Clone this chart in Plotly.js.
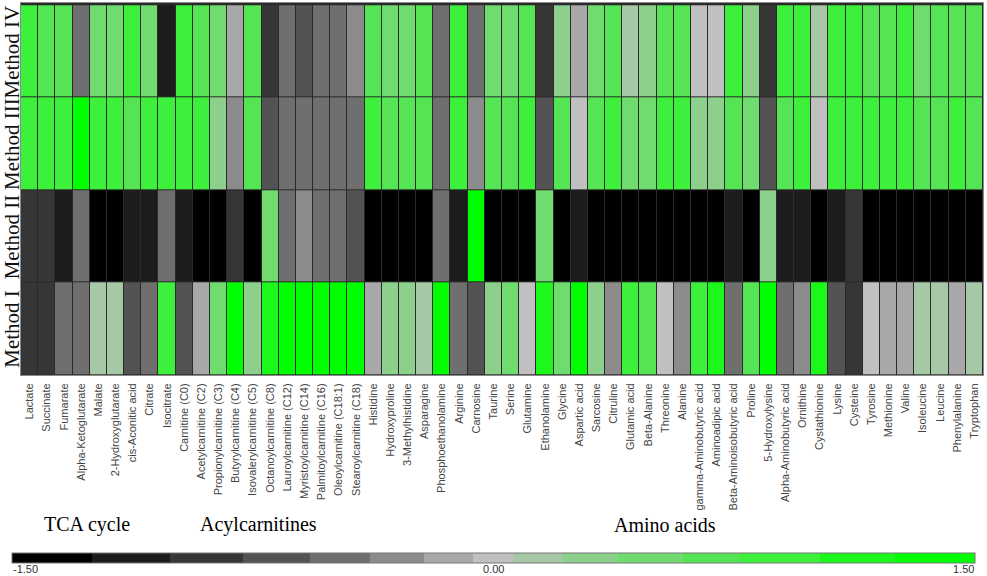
<!DOCTYPE html>
<html>
<head>
<meta charset="utf-8">
<script src="https://cdn.plot.ly/plotly-3.0.1.min.js"></script>
<style>
  html, body { margin: 0; padding: 0; background: #fff; }
  #heat { width: 987px; height: 576px; }
</style>
</head>
<body>
<div id="heat"></div>
<script>
var metabolites = ["Lactate", "Succinate", "Fumarate", "Alpha-Ketoglutarate", "Malate", "2-Hydroxyglutarate",
  "cis-Aconitic acid", "Citrate", "Isocitrate", "Carnitine (C0)", "Acetylcarnitine (C2)", "Propionylcarnitine (C3)",
  "Butyrylcarnitine (C4)", "Isovalerylcarnitine (C5)", "Octanoylcarnitine (C8)", "Lauroylcarnitine (C12)",
  "Myristoylcarnitine (C14)", "Palmitoylcarnitine (C16)", "Oleoylcarnitine (C18:1)", "Stearoylcarnitine (C18)",
  "Histidine", "Hydroxyproline", "3-Methylhistidine", "Asparagine", "Phosphoethanolamine", "Arginine", "Carnosine",
  "Taurine", "Serine", "Glutamine", "Ethanolamine", "Glycine", "Aspartic acid", "Sarcosine", "Citruline",
  "Glutamic acid", "Beta-Alanine", "Threonine", "Alanine", "gamma-Aminobutyric acid", "Aminoadipic acid",
  "Beta-Aminoisobutyric acid", "Proline", "5-Hydroxylysine", "Alpha-Aminobutyric acid", "Ornithine",
  "Cystathionine", "Lysine", "Cysteine", "Tyrosine", "Methionine", "Valine", "Isoleucine", "Leucine",
  "Phenylalanine", "Tryptophan"];

var methods = ["Method I", "Method II", "Method III", "Method IV"];

var groups = ["TCA cycle", "Acylcarnitines", "Amino acids"];
var groupPos = [0.069, 0.247, 0.669];

var barTicks = ["-1.50", "0.00", "1.50"];

var methodI = [-0.89, -0.89, -0.48, -0.48, 0.14, 0.14, -0.68, -0.48, 0.89,
  -0.68, -0.14, 0.49, 1.38, 0.30, 1.13, 1.38, 1.38, 1.38, 1.38, 1.38,
  -0.14, 0.30, 0.30, 0.14, 1.38, -0.48, -0.68, 0.30, 0.49, 0.0,
  1.13, 0.49, 1.38, 0.30, -0.30, 0.89, 0.68, 0.0, -0.30, 0.89,
  1.13, -0.48, 0.68, 1.38, -0.48, -0.30, 1.13, -0.68, -0.89, 0.0,
  -0.14, -0.14, 0.14, 0.14, -0.14, 0.14];

var methodII = [-0.89, -0.89, -1.13, -0.48, -1.38, -1.38, -1.13, -1.13, -0.48,
  -1.13, -1.38, -1.38, -0.89, -1.38, 0.49, -0.48, -0.30, -0.48, -0.48, -0.68,
  -1.38, -1.38, -1.38, -1.38, -0.48, -1.13, 1.38, -1.38, -1.38, -1.38,
  0.49, -1.38, -1.13, -1.38, -1.38, -1.38, -1.38, -1.38, -1.38, -1.38,
  -1.38, -1.13, -1.38, 0.30, -1.13, -1.13, -1.38, -1.13, -0.89, -1.38,
  -1.38, -1.38, -1.38, -1.38, -1.38, -1.38];

var methodIII = [0.89, 0.89, 0.89, 1.38, 0.89, 0.89, 0.68, 0.89, 0.89,
  0.89, 0.89, 0.30, -0.30, 0.68, -0.68, -0.48, -0.48, -0.48, -0.48, -0.48,
  0.89, 0.68, 0.68, 0.68, -0.48, 0.89, -0.30, 0.68, 0.68, 0.89,
  -0.68, 0.68, 0.0, 0.68, 0.89, 0.49, 0.49, 0.89, 0.89, 0.30,
  0.30, 0.68, 0.49, -0.68, 0.68, 0.89, 0.0, 0.89, 0.89, 0.89,
  0.89, 0.89, 0.68, 0.68, 0.89, 0.68];

var methodIV = [0.89, 0.68, 0.68, -0.48, 0.49, 0.49, 0.89, 0.49, -1.13,
  0.89, 0.68, 0.49, -0.14, 0.68, -0.89, -0.48, -0.68, -0.48, -0.48, -0.30,
  0.68, 0.49, 0.49, 0.68, -0.48, 0.89, -0.48, 0.49, 0.49, 0.68,
  -0.89, 0.30, -0.14, 0.49, 0.68, 0.14, 0.30, 0.68, 0.68, 0.0,
  0.0, 0.89, 0.30, -0.89, 0.89, 0.89, 0.14, 0.89, 0.89, 0.68,
  0.68, 0.89, 0.49, 0.68, 0.68, 0.68];

// stepped black-grey-green scale, band edges measured off the colour bar
var stepEdges = [0, 0.083, 0.164, 0.240, 0.309, 0.372, 0.428, 0.479, 0.521, 0.572, 0.628, 0.697, 0.756, 0.839, 0.917, 1];
var stepColors = ['#000000', '#1c1c1c', '#363636', '#535353', '#6f6f6f', '#8b8b8b', '#a8a8a8', '#c0c0c0',
  '#a6c8a6', '#8cd08c', '#70dc70', '#54e454', '#3cf03c', '#1cf81c', '#00ff00'];
var colorscale = [];
for (var i = 0; i < stepColors.length; i++) {
  colorscale.push([stepEdges[i], stepColors[i]]);
  colorscale.push([stepEdges[i + 1], stepColors[i]]);
}

var trace = {
  type: 'heatmap',
  x: metabolites,
  y: methods,
  z: [methodI, methodII, methodIII, methodIV],
  zmin: -1.5,
  zmax: 1.5,
  colorscale: colorscale,
  xgap: 1,
  ygap: 1,
  hoverinfo: 'x+y+z',
  colorbar: {
    orientation: 'h',
    x: 0.491,
    xanchor: 'center',
    y: -0.478,
    yanchor: 'top',
    len: 963,
    lenmode: 'pixels',
    thickness: 10,
    outlinewidth: 1,
    outlinecolor: '#777',
    showticklabels: false,
    ticks: '',
    xpad: 0,
    ypad: 0
  }
};

var serif = '"Liberation Serif", "Times New Roman", serif';
var sans = '"Liberation Sans", Arial, sans-serif';

var annotations = [];
// row names, drawn vertically left of the cells
methods.forEach(function (m, k) {
  annotations.push({text: m, xref: 'paper', yref: 'y', x: -0.0094, y: k, xanchor: 'center', yanchor: 'middle',
    textangle: -90, showarrow: false, font: {family: serif, size: 21, color: '#111'}});
});
groups.forEach(function (g, k) {
  annotations.push({text: g, xref: 'paper', yref: 'paper', x: groupPos[k], y: -0.403, xanchor: 'center',
    yanchor: 'middle', showarrow: false, font: {family: serif, size: 20, color: '#000'}});
});
// colour bar labels: left end, middle, right end
var barX = [-0.0094, 0.491, 0.992];
var barAnchor = ['left', 'center', 'right'];
barTicks.forEach(function (t, k) {
  annotations.push({text: t, xref: 'paper', yref: 'paper', x: barX[k], xanchor: barAnchor[k], y: -0.5215,
    yanchor: 'middle', borderpad: 0, showarrow: false, font: {family: sans, size: 11, color: '#333'}});
});

var layout = {
  width: 987,
  height: 576,
  margin: {l: 21, r: 4, t: 3, b: 201, pad: 0},
  paper_bgcolor: '#fff',
  plot_bgcolor: '#2a2a2a',
  showlegend: false,
  xaxis: {
    type: 'category',
    tickangle: -90,
    tickfont: {family: sans, size: 11, color: '#444'},
    ticks: 'outside',
    ticklen: 3,
    tickcolor: 'rgba(0,0,0,0)',
    showline: true,
    mirror: true,
    linecolor: '#8a8a8a',
    linewidth: 1,
    showgrid: false,
    zeroline: false,
    automargin: false,
    fixedrange: true
  },
  yaxis: {
    type: 'category',
    showticklabels: false,
    ticks: '',
    showline: true,
    mirror: true,
    linecolor: '#8a8a8a',
    linewidth: 1,
    showgrid: false,
    zeroline: false,
    automargin: false,
    fixedrange: true
  },
  annotations: annotations
};

Plotly.newPlot('heat', [trace], layout, {displayModeBar: false, responsive: false});
</script>
</body>
</html>
